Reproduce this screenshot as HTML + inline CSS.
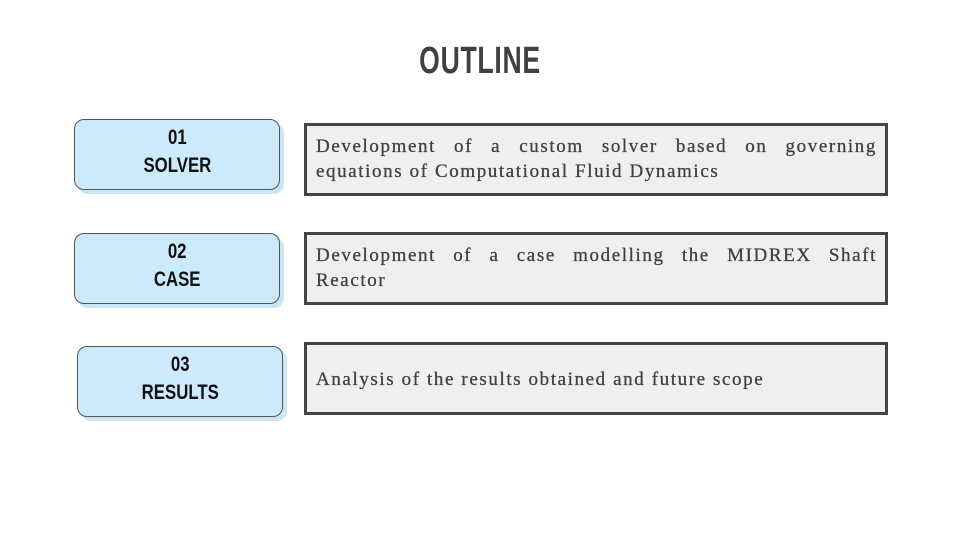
<!DOCTYPE html>
<html><head><style>
body{margin:0;width:960px;height:540px;background:#fff;position:relative;overflow:hidden;font-family:"Liberation Sans",sans-serif}
.t{position:absolute;left:0;width:960px;top:40px;text-align:center;font-weight:bold;font-size:38px;color:#404040;transform:scaleX(0.7);letter-spacing:1px}
.p{position:absolute;width:206px;height:71px;background:#cdeafc;border:1px solid #555;border-radius:10px;box-shadow:4px 4px 0 #cde6f6;text-align:center;color:#111;font-weight:bold;font-size:21px;line-height:28px;box-sizing:border-box;padding-top:4px}
.p span{display:inline-block;transform:scaleX(0.8)}
.b{position:absolute;left:304px;width:584px;height:73px;background:#efefef;border:3px solid #444;box-sizing:border-box;padding:8px 8px 0 9px;font-family:"Liberation Serif",serif;font-size:19px;line-height:25px;color:#404040;letter-spacing:1.6px;-webkit-text-stroke:0.3px #404040;white-space:nowrap}
.j{text-align:justify;text-align-last:justify;letter-spacing:1.6px}
</style></head><body>
<div class="t">OUTLINE</div>
<div class="p" style="left:74px;top:119px"><span>01<br>SOLVER</span></div>
<div class="p" style="left:74px;top:233px"><span>02<br>CASE</span></div>
<div class="p" style="left:77px;top:346px"><span>03<br>RESULTS</span></div>
<div class="b" style="top:123px"><div class="j">Development of a custom solver based on governing</div><div>equations of Computational Fluid Dynamics</div></div>
<div class="b" style="top:232px"><div class="j">Development of a case modelling the MIDREX Shaft</div><div>Reactor</div></div>
<div class="b" style="top:342px;padding-top:22px">Analysis of the results obtained and future scope</div>
</body></html>
